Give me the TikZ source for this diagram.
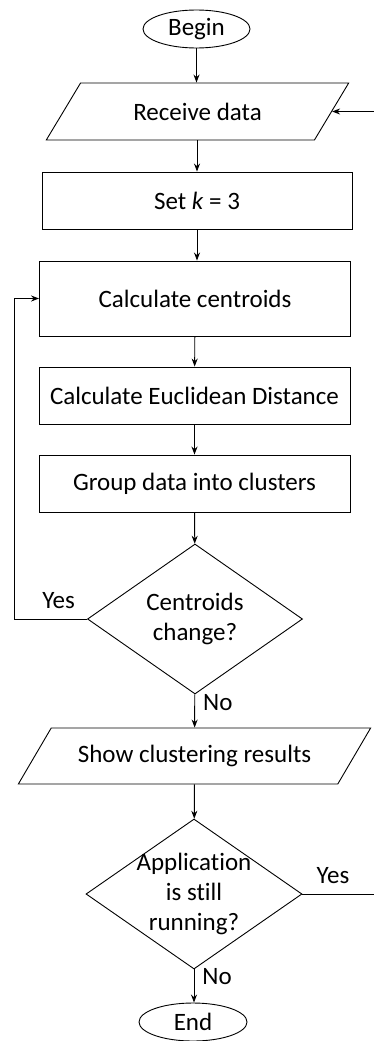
\documentclass[tikz,border=0pt]{standalone}
\usepackage{fontspec}
\setmainfont{Carlito}[Ligatures=NoCommon]
\usetikzlibrary{shapes.geometric,arrows.meta}

\begin{document}
\begin{tikzpicture}[x=1pt,y=-1pt,>={Stealth[length=8pt,width=6pt]},line width=0.9pt,
  font=\fontsize{25pt}{30pt}\selectfont,
  term/.style={draw,ellipse,inner sep=0pt,minimum width=107pt,minimum height=38pt},
  io/.style={draw,trapezium,trapezium stretches=true,inner sep=0pt},
  proc/.style={draw,rectangle,inner sep=0pt,minimum width=311pt,minimum height=57pt},
  test/.style={draw,diamond,align=center,inner sep=-30pt,minimum width=215pt,minimum height=150pt},
  lbl/.style={inner sep=0pt}]
\useasboundingbox (0,0) rectangle (373,1041);

\node[term] (begin) at (196.5,29) {Begin};
\node[io,trapezium left angle=43,trapezium right angle=137,minimum width=303pt,minimum height=57pt] (recv) at (197.5,111.5) {Receive data};
\node[proc,minimum width=310pt] (setk) at (197,200.5) {Set \textit{k} = 3};
\node[proc,minimum height=75pt] (cent) at (195,298.5) {Calculate centroids};
\node[proc] (dist) at (194.5,395.5) {Calculate Euclidean Distance};
\node[proc] (group) at (194.5,483.5) {Group data into clusters};
\node[test] (chg) at (195,619) {Centroids\\change?};
\node[io,trapezium left angle=39,trapezium right angle=141,minimum width=353pt,minimum height=56pt] (show) at (194.5,756) {Show clustering results};
\node[test,minimum width=216pt] (run) at (194,894) {Application\\is still\\running?};
\node[term,minimum width=108pt] (stop) at (193,1022) {End};

\coordinate (l) at (14,619);
\coordinate (r) at (385,894);

\draw[->] (begin) -- (begin |- recv.north);
\draw[->] (setk |- recv.south) -- (setk);
\draw[->] (setk) -- (setk |- cent.north);
\draw[->] (cent) -- (dist);
\draw[->] (dist) -- (group);
\draw[->] (group) -- (chg);
\draw[->] (chg) -- node[lbl,right=8pt,pos=0.24] {No} (show);
\draw[->] (chg) -- node[lbl,above=10pt,pos=0.39] {Yes} (l) |- (cent);
\draw[->] (show) -- (run);
\draw[->] (run) -- node[lbl,right=8pt,pos=0.2] {No} (run |- stop.north);
\draw[->] (run) -- node[lbl,above=10pt,pos=0.37] {Yes} (r) |- (recv);
\end{tikzpicture}
\end{document}
